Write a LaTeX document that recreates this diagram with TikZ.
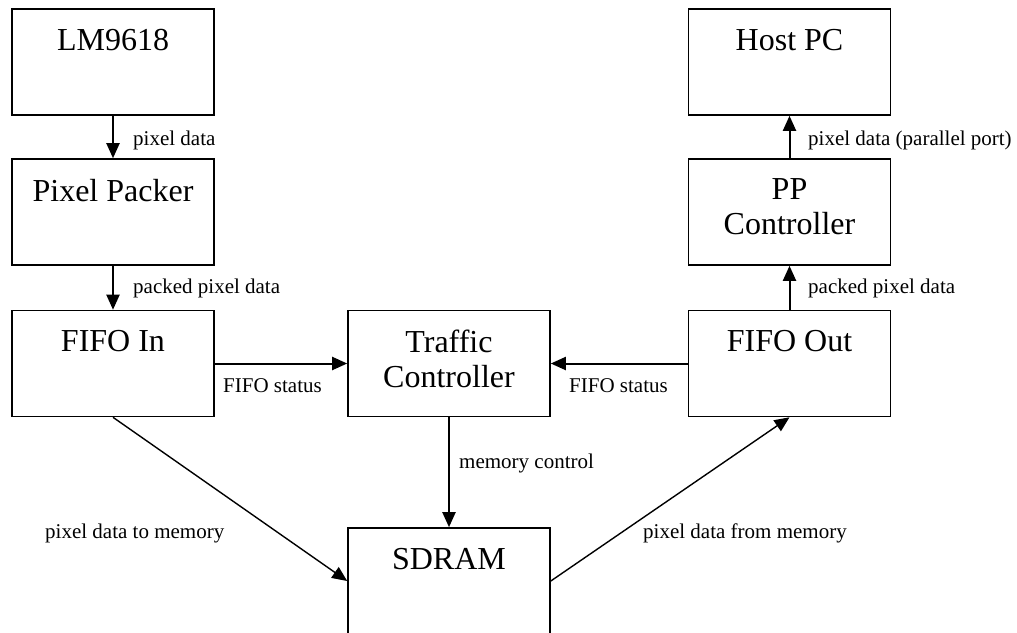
\documentclass[tikz,border=0pt]{standalone}
\usepackage{fontspec}
\setmainfont{Liberation Serif}
\usetikzlibrary{arrows.meta}
\begin{document}
\begin{tikzpicture}[x=1pt,y=-1pt,
  box/.style={draw, rectangle, line width=1.6pt, minimum width=202pt, minimum height=106pt, inner sep=0pt},
  boxtext/.style={anchor=north, inner sep=0pt, align=center, font=\fontsize{32}{35}\selectfont},
  lbl/.style={anchor=base west, inner sep=0pt, font=\fontsize{21}{25}\selectfont},
  arr/.style={-{Triangle[length=15pt,width=13pt]}, line width=2pt},
  darr/.style={-{Triangle[length=15pt,width=13pt]}, line width=1.4pt}]
\clip (0,0) rectangle (1017,632);
% boxes
\node[box] (lm) at (113,62) {};
\node[box] (pp) at (113,212) {};
\node[box] (fin) at (113,363.5) {};
\node[box] (tc) at (449,363.5) {};
\node[box] (fout) at (789.5,363.5) {};
\node[box] (ppc) at (789.5,212) {};
\node[box] (host) at (789.5,62) {};
\node[box] (sd) at (449,581) {};
% box texts
\node[boxtext] (tlm) at ([yshift=-20.5pt]lm.north) {LM9618};
\node[boxtext] (tpp) at ([yshift=-20.5pt]pp.north) {Pixel Packer};
\node[boxtext] (tfin) at ([yshift=-20.5pt]fin.north) {FIFO In};
\node[boxtext] (ttc) at ([yshift=-20.5pt]tc.north) {Traffic\\Controller};
\node[boxtext] (tfout) at ([yshift=-20.5pt]fout.north) {FIFO Out};
\node[boxtext] (tppc) at ([yshift=-20.5pt]ppc.north) {PP\\Controller};
\node[boxtext] (thost) at ([yshift=-20.5pt]host.north) {Host PC};
\node[boxtext] (tsd) at ([yshift=-20.5pt]sd.north) {SDRAM};
% connectors
\draw[arr] (lm.south) -- (pp.north);
\draw[arr] (pp.south) -- (fin.north);
\draw[arr] (fin.east) -- (tc.west);
\draw[arr] (fout.west) -- (tc.east);
\draw[arr] (tc.south) -- (sd.north);
\draw[arr] (fout.north) -- (ppc.south);
\draw[arr] (ppc.north) -- (host.south);
\draw[darr] (fin.south) -- (sd.west);
\draw[darr] (sd.east) -- (fout.south);
% labels
\node[lbl] (l1) at (133,145) {pixel data};
\node[lbl] (l2) at (133,293) {packed pixel data};
\node[lbl] (l3) at (808,145) {pixel data (parallel port)};
\node[lbl] (l4) at (808,293) {packed pixel data};
\node[lbl] (l5) at (223,392) {FIFO status};
\node[lbl] (l6) at (569,392) {FIFO status};
\node[lbl] (l7) at (459,468) {memory control};
\node[lbl] (l8) at (45,538) {pixel data to memory};
\node[lbl] (l9) at (643,538) {pixel data from memory};
\end{tikzpicture}
\end{document}
